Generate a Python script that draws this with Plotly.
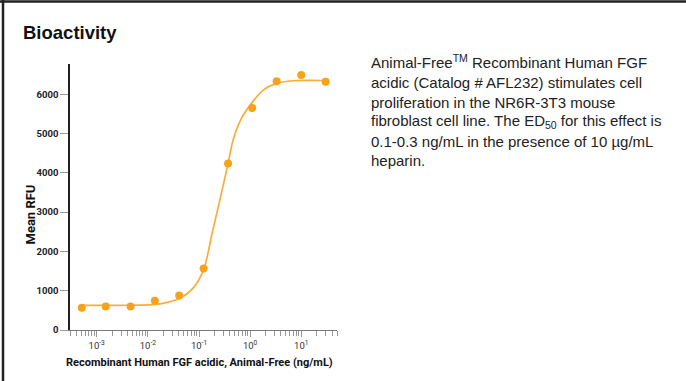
import plotly.graph_objects as go

# ---- data ----
conc = [0.00051, 0.0015, 0.0046, 0.0137, 0.041, 0.123, 0.37, 1.1, 3.3, 10, 30]
rfu = [565, 600, 600, 745, 880, 1565, 4240, 5650, 6330, 6490, 6320]

fit_conc = [0.00051, 0.00275, 0.0124, 0.0228, 0.0415, 0.0758, 0.123, 0.1875,
            0.274, 0.37, 0.464, 0.676, 1.06, 1.80, 3.30, 6.98, 29.3]
fit_rfu = [625, 628, 645, 695, 800, 1060, 1530, 2560,
           3478, 4240, 4835, 5387, 5768, 6107, 6277, 6344, 6350]

x_tickvals = [1e-3, 1e-2, 1e-1, 1e0, 1e1]
x_ticktext = ["10<sup>-3</sup>", "10<sup>-2</sup>", "10<sup>-1</sup>",
              "10<sup>0</sup>", "10<sup>1</sup>"]
x_minor = [m * 10.0 ** e for e in range(-4, 2) for m in range(2, 10)
           if 3e-4 <= m * 10.0 ** e <= 50]
y_tickvals = [0, 1000, 2000, 3000, 4000, 5000, 6000]

title_text = "Bioactivity"
desc_lines = [
    "Animal-Free<sup>TM</sup> Recombinant Human FGF",
    "acidic (Catalog # AFL232) stimulates cell",
    "proliferation in the NR6R-3T3 mouse",
    "fibroblast cell line. The ED<sub>50</sub> for this effect is",
    "0.1-0.3 ng/mL in the presence of 10 \u00b5g/mL",
    "heparin.",
]
x_title = "Recombinant Human FGF acidic, Animal-Free (ng/mL)"
y_title = "Mean RFU"

# ---- layout geometry (pixels) ----
W, H = 686, 381
L, T = 70, 64
PW, PH = 267, 266
B = H - T - PH
R = W - L - PW


def xp(px):
    return (px - L) / PW


def yp(py):
    return (T + PH - py) / PH


ORANGE = "#F7A21B"
COND = "Roboto, sans-serif"
BODY = "Liberation Sans, Arial, sans-serif"

fig = go.Figure()
fig.add_trace(go.Scatter(
    x=fit_conc, y=fit_rfu, mode="lines",
    line=dict(color="#F8AE3A", width=1.7, shape="spline", smoothing=0.8),
    hoverinfo="skip", showlegend=False))
fig.add_trace(go.Scatter(
    x=conc, y=rfu, mode="markers",
    marker=dict(color=ORANGE, size=8), showlegend=False))

fig.update_xaxes(
    type="log", range=[-3.523, 1.699],
    showline=True, linecolor="#777", linewidth=1.2,
    ticks="outside", ticklen=6, tickcolor="#999", tickwidth=1,
    tickvals=x_tickvals, ticktext=x_ticktext,
    minor=dict(tickvals=x_minor, ticks="outside", ticklen=5,
               tickcolor="#999", tickwidth=1),
    tickfont=dict(family=COND, size=9.5, color="#333"),
    showgrid=False, zeroline=False)
fig.update_yaxes(
    range=[0, 6770],
    showline=True, linecolor="#222", linewidth=1.5,
    ticks="outside", ticklen=8, tickcolor="#999", tickwidth=1,
    tickvals=y_tickvals, ticktext=[str(v) for v in y_tickvals],
    tickfont=dict(family=COND, size=9.5, color="#222", weight="bold"),
    showgrid=False, zeroline=False)

ann = []
ann.append(dict(text="<b>" + title_text + "</b>", x=xp(21), y=yp(32),
                xref="paper", yref="paper", xanchor="left", yanchor="middle",
                showarrow=False,
                font=dict(family=BODY, size=18.5, color="#111")))
line_centers = [62, 82, 102, 121.5, 141, 160]
for txt, cy in zip(desc_lines, line_centers):
    ann.append(dict(text=txt, x=xp(369), y=yp(cy), xref="paper", yref="paper",
                    xanchor="left", yanchor="middle", showarrow=False,
                    font=dict(family=BODY, size=15, color="#222")))
ann.append(dict(text="<b>" + x_title + "</b>", x=xp(199), y=yp(362),
                xref="paper", yref="paper", xanchor="center", yanchor="middle",
                showarrow=False,
                font=dict(family=COND, size=11, color="#111")))
ann.append(dict(text="<b>" + y_title + "</b>", x=xp(29.5), y=yp(215),
                xref="paper", yref="paper", xanchor="center", yanchor="middle",
                textangle=-90, showarrow=False,
                font=dict(family=COND, size=13, color="#111")))

shapes = [
    dict(type="line", xref="paper", yref="paper",
         x0=xp(3), x1=xp(3), y0=yp(H + 2), y1=yp(-2),
         line=dict(color="#222", width=2.5)),
    dict(type="line", xref="paper", yref="paper",
         x0=xp(-2), x1=xp(W + 2), y0=yp(1.5), y1=yp(1.5),
         line=dict(color="#222", width=2.5)),
]

fig.update_layout(
    width=W, height=H,
    margin=dict(l=L, r=R, t=T, b=B, pad=0),
    paper_bgcolor="white", plot_bgcolor="white",
    annotations=ann, shapes=shapes,
    showlegend=False)

fig.write_html("out.html",
               config={"displayModeBar": False},
               post_script="document.body.style.margin='0';"
                           "document.body.style.padding='0';")
